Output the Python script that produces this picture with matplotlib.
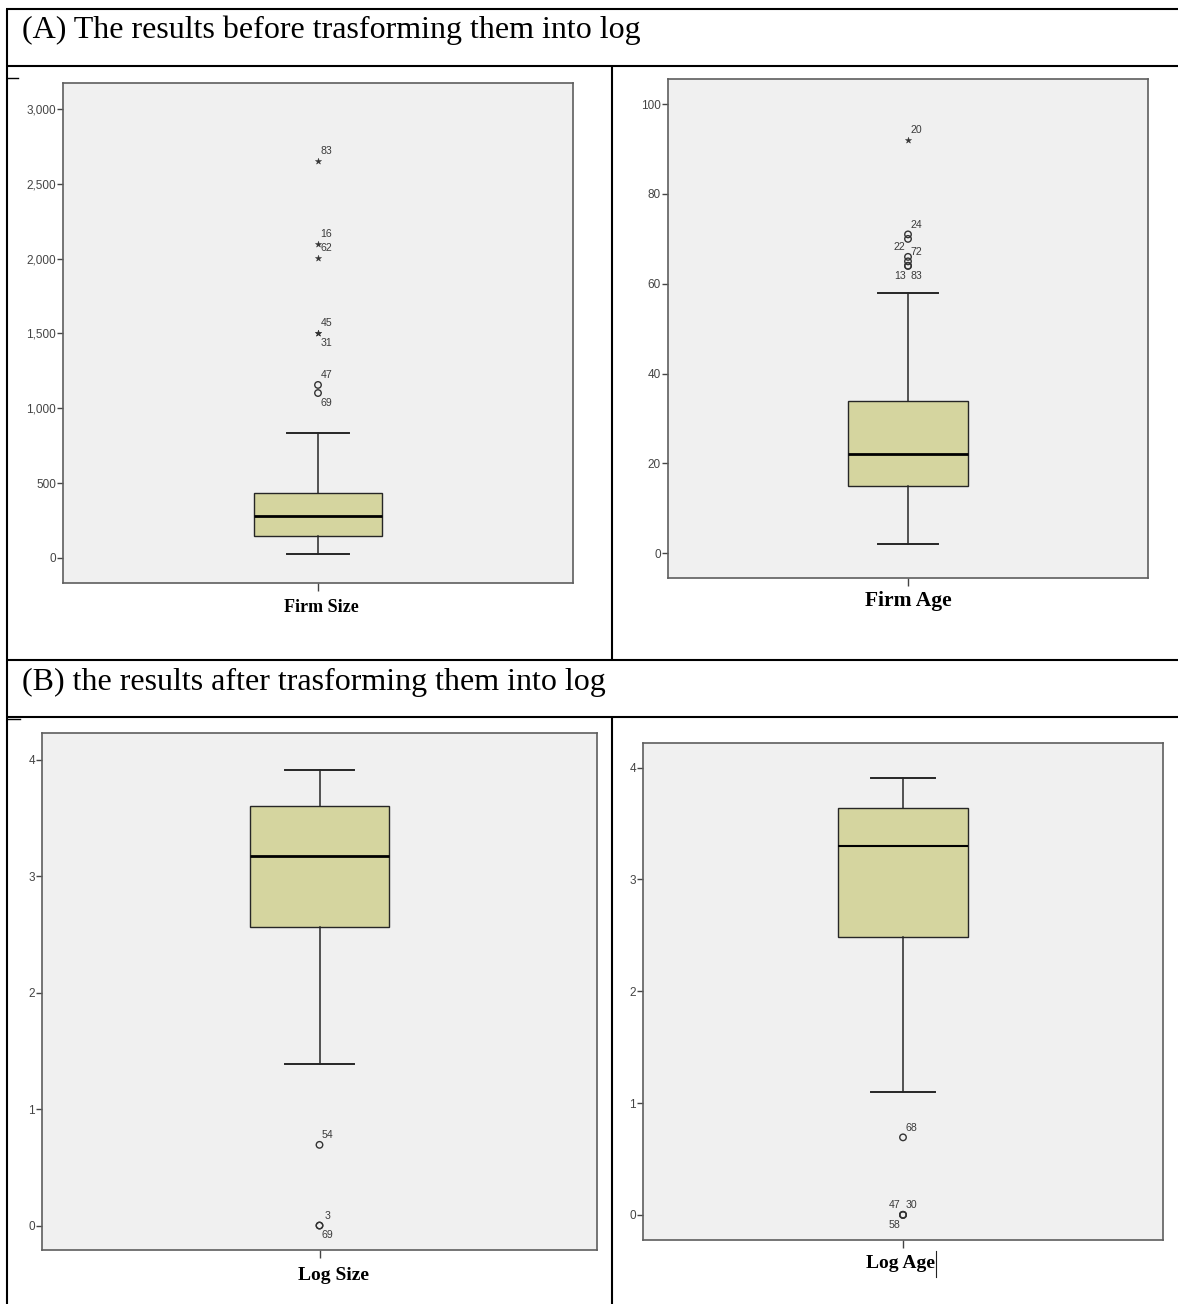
import matplotlib
matplotlib.use("Agg")
import matplotlib.pyplot as plt
from matplotlib.ticker import FuncFormatter

# ---- data -------------------------------------------------------------
# Firm Size (raw)
size_stats = dict(q1=149, med=280, q3=434, whislo=27, whishi=837)
size_circle_vals = [1156, 1102]
size_circle_ids = ["47", "69"]
size_star_vals = [2654, 2097, 2004, 1503, 1500]
size_star_ids = ["83", "16", "62", "45", "31"]
size_ticks = [0, 500, 1000, 1500, 2000, 2500, 3000]

# Firm Age (raw)
age_stats = dict(q1=15, med=22, q3=34, whislo=2, whishi=58)
age_circle_vals = [71, 70, 66, 65, 64, 64]
age_circle_ids = ["24", "", "22", "72", "13", "83"]
age_star_vals = [92]
age_star_ids = ["20"]
age_ticks = [0, 20, 40, 60, 80, 100]

# Log Size
lsize_stats = dict(q1=2.565, med=3.175, q3=3.603, whislo=1.387, whishi=3.914)
lsize_circle_vals = [0.693, 0.0, 0.0]
lsize_circle_ids = ["54", "3", "69"]
lsize_ticks = [0, 1, 2, 3, 4]

# Log Age
lage_stats = dict(q1=2.481, med=3.295, q3=3.636, whislo=1.099, whishi=3.911)
lage_circle_vals = [0.693, 0.0, 0.0, 0.0]
lage_circle_ids = ["68", "47", "30", "58"]
lage_ticks = [0, 1, 2, 3, 4]

header_a = "(A) The results before trasforming them into log"
header_b = "(B) the results after trasforming them into log"

# ---- styling ----------------------------------------------------------
W, H = 1178, 1304
BOX_FILL = "#d5d59f"
PANEL_BG = "#f0f0f0"
FRAME = "#5e5e5e"
INK = "#262626"
SMALL = ["Liberation Sans Narrow", "Liberation Sans", "DejaVu Sans"]
SERIF = ["Liberation Serif", "DejaVu Serif"]

fig = plt.figure(figsize=(W / 100, H / 100), dpi=100)

# full-figure layer in pixel units for the table rules and headers
bg = fig.add_axes([0, 0, 1, 1])
bg.set_xlim(0, W)
bg.set_ylim(H, 0)
bg.axis("off")
bg.set_zorder(-5)

rule = dict(color="black", lw=1.5, solid_capstyle="butt")
bg.plot([6, W], [9, 9], **rule)
bg.plot([7, 7], [9, H], **rule)
bg.plot([6, W], [66, 66], **rule)
bg.plot([6, W], [660, 660], **rule)
bg.plot([6, W], [717, 717], **rule)
bg.plot([612, 612], [66, 660], **rule)
bg.plot([612, 612], [717, H], **rule)
bg.plot([7, 18], [78, 78], color="black", lw=1.0)
bg.plot([7, 20], [719, 719], color="black", lw=1.0)

bg.text(22, 30, header_a, fontsize=23, family=SERIF, ha="left", va="center")
bg.text(22, 682, header_b, fontsize=23, family=SERIF, ha="left", va="center")


def px_axes(x0, y0, x1, y1):
    return fig.add_axes([x0 / W, 1 - y1 / H, (x1 - x0) / W, (y1 - y0) / H])


def panel(rect, stats, ylim, ticks, fmt, circles, circle_ids, circle_offs,
          stars=(), star_ids=(), star_offs=(), med_lw=2.0):
    ax = px_axes(*rect)
    ax.set_facecolor(PANEL_BG)
    st = dict(stats)
    st["fliers"] = []
    ax.bxp([st], positions=[0.5], widths=0.25, capwidths=0.123,
           showfliers=False, patch_artist=True,
           boxprops=dict(facecolor=BOX_FILL, edgecolor=INK, linewidth=1.0),
           medianprops=dict(color="black", linewidth=med_lw),
           whiskerprops=dict(color=INK, linewidth=1.1),
           capprops=dict(color=INK, linewidth=1.4))
    ax.scatter([0.5] * len(circles), circles, s=22, facecolors="none",
               edgecolors="#333333", linewidths=1.0, zorder=4)
    if len(stars):
        ax.scatter([0.5] * len(stars), stars, s=22, marker="*",
                   color="#333333", linewidths=0.3, zorder=4)
    for v, t, off in list(zip(circles, circle_ids, circle_offs)) + \
            list(zip(stars, star_ids, star_offs)):
        if t:
            ax.annotate(t, (0.5, v), xytext=off, textcoords="offset points",
                        ha="center", va="center", fontsize=7.6,
                        family=SMALL, color="#3a3a3a")
    ax.set_xlim(0, 1)
    ax.set_ylim(*ylim)
    ax.set_xticks([0.5])
    ax.set_xticklabels([""])
    ax.set_yticks(ticks)
    ax.yaxis.set_major_formatter(FuncFormatter(fmt))
    ax.tick_params(axis="y", direction="out", length=4, width=1.0,
                   color="#444444", labelsize=8.5, labelcolor="#444444",
                   pad=1)
    ax.tick_params(axis="x", direction="out", length=6, width=1.0,
                   color="#444444")
    for lab in ax.get_yticklabels():
        lab.set_family(SMALL)
    for sp in ax.spines.values():
        sp.set_color(FRAME)
        sp.set_linewidth(1.2)
    return ax


UR, DR, UL, DL = (6, 7), (6, -7), (-6, 7), (-6, -7)

panel((63, 83, 573, 583), size_stats, (-167, 3173), size_ticks,
      lambda v, p: f"{int(v):,}",
      size_circle_vals, size_circle_ids, [UR, DR],
      size_star_vals, size_star_ids, [UR, UR, UR, UR, DR])

panel((668, 79, 1148, 578), age_stats, (-5.5, 105.6), age_ticks,
      lambda v, p: f"{int(v)}",
      age_circle_vals, age_circle_ids, [UR, UR, UL, UR, DL, DR],
      age_star_vals, age_star_ids, [UR])

panel((42, 733, 597, 1250), lsize_stats, (-0.21, 4.23), lsize_ticks,
      lambda v, p: f"{int(v)}",
      lsize_circle_vals, lsize_circle_ids, [UR, UR, DR])

panel((643, 743, 1163, 1240), lage_stats, (-0.225, 4.22), lage_ticks,
      lambda v, p: f"{int(v)}",
      lage_circle_vals, lage_circle_ids, [UR, UL, UR, DL], med_lw=1.5)

# axis titles under each panel
bg.text(321, 607, "Firm Size", fontsize=13, family=SERIF, weight="bold",
        ha="center", va="center")
bg.text(908, 601, "Firm Age", fontsize=15.5, family=SERIF, weight="bold",
        ha="center", va="center")
bg.text(333, 1276, "Log Size", fontsize=14, family=SERIF, weight="bold",
        ha="center", va="center")
bg.text(901, 1263, "Log Age", fontsize=14, family=SERIF, weight="bold",
        ha="center", va="center")
bg.plot([935.5, 935.5], [1251, 1277], color="#222222", lw=0.8)

fig.savefig("out.png", dpi=100)
